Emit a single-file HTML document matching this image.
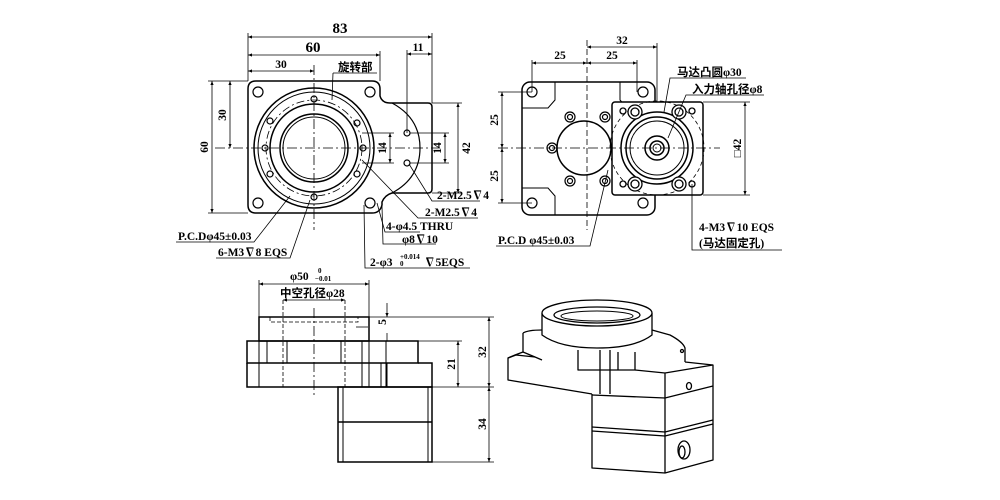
<!DOCTYPE html>
<html><head><meta charset="utf-8"><style>
html,body{margin:0;padding:0;background:#fff;}
svg{display:block}
text{font-family:"Liberation Serif","Noto Serif CJK SC",serif;font-weight:bold;fill:#000;font-size:11.5px}
.cj{font-family:"Liberation Serif","Noto Sans CJK SC",sans-serif;font-size:11.5px;font-weight:bold}
.big{font-size:15px}
</style></head><body>
<svg width="1000" height="500" viewBox="0 0 1000 500" xmlns="http://www.w3.org/2000/svg">
<defs>
<marker id="a" viewBox="0 0 10 10" refX="10" refY="5" markerWidth="7" markerHeight="5" orient="auto-start-reverse"><path d="M0,1 L10,5 L0,9 z" fill="#000"/></marker>
</defs>
<g fill="none" stroke="#000" stroke-width="1.5">
<path d="M256,81 H372 Q380,81 380,89 V96 Q382,103 390,103 H428 Q432,103 432,107 V189 Q432,193 428,193 H392 Q385,195 382,202 V205 Q380,213 372,213 H256 Q248,213 248,205 V89 Q248,81 256,81 Z"/>
<path d="M392,103 Q420,118 420,148 Q420,178 392,193" stroke-width="1.2"/>
<circle cx="314" cy="148" r="60"/>
<circle cx="314" cy="148" r="56" stroke-width="1"/>
<circle cx="314" cy="148" r="48" stroke-dasharray="8,3,2,3" stroke-width="0.8"/>
<circle cx="314" cy="148" r="44"/>
<circle cx="314" cy="148" r="34"/>
<circle cx="314" cy="148" r="31" stroke-width="1"/>
<g stroke-width="1.2">
<circle cx="258" cy="92" r="5"/><circle cx="370" cy="92" r="5"/><circle cx="258" cy="203" r="5"/><circle cx="370" cy="203" r="5"/>
<circle cx="314" cy="99" r="3"/><circle cx="314" cy="197" r="3"/><circle cx="265" cy="148" r="3"/><circle cx="363" cy="148" r="3"/>
<circle cx="270" cy="121" r="3"/><circle cx="357" cy="123" r="3"/><circle cx="270" cy="174" r="3"/><circle cx="357" cy="174" r="3"/>
<circle cx="407" cy="133" r="3"/><circle cx="407" cy="163" r="3"/>
</g>
<g stroke-width="0.8">
<line x1="314" y1="65" x2="314" y2="230" stroke-dasharray="10,3,2,3"/>
<line x1="215" y1="148" x2="440" y2="148" stroke-dasharray="10,3,2,3"/>
<line x1="248" y1="33" x2="248" y2="81"/><line x1="432" y1="33" x2="432" y2="103"/><line x1="380" y1="51" x2="380" y2="81"/>
<line x1="248" y1="37" x2="432" y2="37" marker-start="url(#a)" marker-end="url(#a)"/>
<line x1="248" y1="55" x2="380" y2="55" marker-start="url(#a)" marker-end="url(#a)"/>
<line x1="248" y1="71" x2="314" y2="71" marker-start="url(#a)" marker-end="url(#a)"/>
<line x1="407" y1="50" x2="407" y2="133"/>
<line x1="407" y1="54" x2="432" y2="54" marker-start="url(#a)" marker-end="url(#a)"/>
<line x1="208" y1="81" x2="248" y2="81"/><line x1="208" y1="213" x2="248" y2="213"/>
<line x1="212" y1="81" x2="212" y2="213" marker-start="url(#a)" marker-end="url(#a)"/>
<line x1="230" y1="81" x2="230" y2="148" marker-start="url(#a)" marker-end="url(#a)"/>
<line x1="432" y1="103" x2="462" y2="103"/><line x1="432" y1="193" x2="462" y2="193"/>
<line x1="458" y1="103" x2="458" y2="193" marker-start="url(#a)" marker-end="url(#a)"/>
<line x1="410" y1="133" x2="449" y2="133"/><line x1="410" y1="163" x2="449" y2="163"/>
<line x1="445" y1="133" x2="445" y2="163" marker-start="url(#a)" marker-end="url(#a)"/>
<line x1="362" y1="133" x2="394" y2="133"/><line x1="362" y1="163" x2="394" y2="163"/>
<line x1="390" y1="133" x2="390" y2="163" marker-start="url(#a)" marker-end="url(#a)"/>
<polyline points="333,73 377,73"/><line x1="333" y1="73" x2="332" y2="100"/>
<polyline points="409,164 432,201 480,201"/>
<polyline points="362,160 418,218 478,218"/>
<polyline points="377,203 385,232 420,232"/>
<polyline points="382,206 383,244 436,244"/>
<polyline points="364,205 365,268 470,268"/>
<polyline points="176,242 254,242 290,196"/>
<polyline points="216,258 290,258 310,200"/>
</g>
<rect x="522" y="82" width="133" height="133" rx="8"/>
<g stroke-width="1">
<path d="M555,82 V100 L548,108 H522 M620,82 V100 L627,108 H655 M555,215 V196 L548,188 H522"/>
</g>
<circle cx="584" cy="148" r="27"/>
<g stroke-width="1.2">
<circle cx="532" cy="92" r="5"/><circle cx="643" cy="92" r="5"/><circle cx="532" cy="203" r="5"/><circle cx="643" cy="203" r="5"/>
<circle cx="570" cy="117" r="5"/><circle cx="570" cy="117" r="2.5"/><circle cx="605" cy="117" r="5"/><circle cx="605" cy="117" r="2.5"/>
<circle cx="552" cy="148" r="5"/><circle cx="552" cy="148" r="2.5"/>
<circle cx="570" cy="181" r="5"/><circle cx="570" cy="181" r="2.5"/><circle cx="605" cy="181" r="5"/><circle cx="605" cy="181" r="2.5"/>
</g>
<rect x="612" y="102" width="91" height="93" rx="3" fill="#fff"/>
<circle cx="657" cy="148" r="47" stroke-dasharray="4,3" stroke-width="0.8"/>
<circle cx="657" cy="148" r="36"/>
<circle cx="657" cy="148" r="31"/>
<circle cx="657" cy="148" r="27" stroke-width="1"/>
<circle cx="657" cy="148" r="12"/>
<circle cx="657" cy="148" r="7"/>
<circle cx="657" cy="148" r="4" stroke-width="1"/>
<g stroke-width="1.3">
<circle cx="635" cy="112" r="7" fill="#fff"/><circle cx="635" cy="112" r="4"/>
<circle cx="679" cy="112" r="7" fill="#fff"/><circle cx="679" cy="112" r="4"/>
<circle cx="635" cy="184" r="7" fill="#fff"/><circle cx="635" cy="184" r="4"/>
<circle cx="679" cy="184" r="7" fill="#fff"/><circle cx="679" cy="184" r="4"/>
<circle cx="623" cy="111" r="3"/><circle cx="692" cy="111" r="3"/><circle cx="623" cy="184" r="3"/><circle cx="692" cy="184" r="3"/>
</g>
<g stroke-width="0.8">
<line x1="587" y1="40" x2="587" y2="230" stroke-dasharray="6,3"/>
<line x1="498" y1="148" x2="720" y2="148" stroke-dasharray="10,3,2,3"/>
<line x1="532" y1="60" x2="532" y2="92"/><line x1="637" y1="60" x2="637" y2="92"/><line x1="657" y1="43" x2="657" y2="102"/>
<line x1="587" y1="47" x2="657" y2="47" marker-start="url(#a)" marker-end="url(#a)"/>
<line x1="532" y1="63" x2="587" y2="63" marker-start="url(#a)" marker-end="url(#a)"/>
<line x1="587" y1="63" x2="637" y2="63" marker-start="url(#a)" marker-end="url(#a)"/>
<line x1="498" y1="92" x2="532" y2="92"/><line x1="498" y1="203" x2="532" y2="203"/>
<line x1="502" y1="92" x2="502" y2="148" marker-start="url(#a)" marker-end="url(#a)"/>
<line x1="502" y1="148" x2="502" y2="203" marker-start="url(#a)" marker-end="url(#a)"/>
<line x1="703" y1="102" x2="750" y2="102"/><line x1="703" y1="195" x2="750" y2="195"/>
<line x1="745" y1="102" x2="745" y2="195" marker-start="url(#a)" marker-end="url(#a)"/>
<polyline points="746,78 670,78 664,112"/>
<polyline points="764,95 686,95 668,138"/>
<polyline points="692,184 692,250 782,250"/>
<polyline points="496,246 590,246 608,170"/>
</g>
<rect x="259" y="317" width="110" height="24"/>
<rect x="247" y="341" width="171" height="22"/>
<path d="M247,363 V387 H432 V363 H418"/>
<rect x="338" y="387" width="94" height="75"/>
<line x1="338" y1="422" x2="432" y2="422"/>
<g stroke-width="1">
<line x1="343" y1="387" x2="343" y2="462"/><line x1="428" y1="387" x2="428" y2="462"/>
<line x1="259" y1="341" x2="259" y2="387"/><line x1="267" y1="341" x2="267" y2="363"/>
<line x1="287" y1="341" x2="287" y2="363"/><line x1="341" y1="341" x2="341" y2="363"/>
<line x1="362" y1="341" x2="362" y2="387"/><line x1="369" y1="341" x2="369" y2="387"/>
<line x1="386" y1="341" x2="386" y2="387"/><line x1="381" y1="363" x2="381" y2="387"/><line x1="387" y1="363" x2="387" y2="387"/>
<line x1="267" y1="363" x2="287" y2="363"/>
</g>
<g stroke-width="0.8">
<line x1="283" y1="300" x2="283" y2="387" stroke-dasharray="4,2"/>
<line x1="345" y1="300" x2="345" y2="387" stroke-dasharray="4,2"/>
<line x1="314" y1="308" x2="314" y2="396" stroke-dasharray="10,3,2,3"/>
<polyline points="270,317 270,322 358,322 358,317" stroke-dasharray="4,2"/>
<line x1="259" y1="280" x2="259" y2="317"/><line x1="369" y1="280" x2="369" y2="317"/>
<line x1="259" y1="284" x2="369" y2="284" marker-start="url(#a)" marker-end="url(#a)"/>
<line x1="283" y1="300" x2="345" y2="300" marker-start="url(#a)" marker-end="url(#a)"/>
<line x1="369" y1="317" x2="494" y2="317"/><line x1="418" y1="341" x2="462" y2="341"/>
<line x1="432" y1="387" x2="494" y2="387"/><line x1="432" y1="462" x2="494" y2="462"/>
<line x1="489" y1="317" x2="489" y2="387" marker-start="url(#a)" marker-end="url(#a)"/>
<line x1="489" y1="387" x2="489" y2="462" marker-start="url(#a)" marker-end="url(#a)"/>
<line x1="458" y1="341" x2="458" y2="387" marker-start="url(#a)" marker-end="url(#a)"/>
<line x1="387" y1="303" x2="387" y2="317" marker-end="url(#a)"/>
<line x1="387" y1="341" x2="387" y2="333"/>
<line x1="356" y1="327" x2="368" y2="327"/>
</g>
<!-- Iso view -->
<g stroke-width="1.3" stroke-linejoin="round">
<path d="M523,333 L523,352 L515,355 L508,358 L508,380 L592,394"/>
<path d="M508,358 L516,355 L535,357"/>
<path d="M523,333 Q528,330 542,330 M652,330 L670,335 Q683,342 685,348 L685,362"/>
<path d="M523,352 L535,357 L542,360"/>
<path d="M542,313 L542,335 Q560,348 597,348 Q635,348 652,335 L652,313"/>
<ellipse cx="597" cy="313" rx="55" ry="13" fill="#fff"/>
<ellipse cx="597" cy="315" rx="43" ry="8"/>
<ellipse cx="597" cy="316" rx="36" ry="5" stroke-width="1"/>
<path d="M578,350 L578,370 L635,370 L635,352 M600,350 V394 M610,350 V394 M618,352 V370"/>
<path d="M592,394 L592,468 L665,473 L713,460 L713,365 L685,362"/>
<path d="M635,370 L665,373 L713,365 M665,373 V473"/>
<path d="M592,395 L665,398 L713,386"/>
<path d="M592,427 L665,432 L713,420 M592,431 L665,436 L713,424"/>
<ellipse cx="689" cy="386" rx="2.5" ry="3.5"/>
<ellipse cx="684" cy="450" rx="6" ry="9"/><ellipse cx="682" cy="452" rx="3" ry="6"/>
<circle cx="682" cy="351" r="1.5"/>
</g>
</g>
<text x="340" y="33" text-anchor="middle" class="big">83</text>
<text x="313" y="52" text-anchor="middle" class="big">60</text>
<text x="281" y="68" text-anchor="middle">30</text>
<text x="418" y="51" text-anchor="middle">11</text>
<text x="338" y="71" class="cj">旋转部</text>
<text transform="translate(226,115) rotate(-90)" text-anchor="middle">30</text>
<text transform="translate(208,147) rotate(-90)" text-anchor="middle">60</text>
<text transform="translate(470,148) rotate(-90)" text-anchor="middle">42</text>
<text transform="translate(441,148) rotate(-90)" text-anchor="middle">14</text>
<text transform="translate(386,148) rotate(-90)" text-anchor="middle">14</text>
<text x="437" y="199">2-M2.5∇4</text>
<text x="425" y="216">2-M2.5∇4</text>
<text x="386" y="230">4-φ4.5 THRU</text>
<text x="402" y="243">φ8∇10</text>
<text x="370" y="266">2-φ3</text>
<text x="400" y="259" style="font-size:7px">+0.014</text>
<text x="400" y="266" style="font-size:7px">0</text>
<text x="424" y="266">∇5EQS</text>
<text x="178" y="240">P.C.Dφ45±0.03</text>
<text x="218" y="256">6-M3∇8 EQS</text>
<text x="622" y="44" text-anchor="middle">32</text>
<text x="560" y="59" text-anchor="middle">25</text>
<text x="612" y="59" text-anchor="middle">25</text>
<text transform="translate(498,120) rotate(-90)" text-anchor="middle">25</text>
<text transform="translate(498,176) rotate(-90)" text-anchor="middle">25</text>
<text transform="translate(741,148) rotate(-90)" text-anchor="middle">□42</text>
<text x="677" y="76" class="cj">马达凸圆φ30</text>
<text x="692" y="93" class="cj">入力轴孔径φ8</text>
<text x="699" y="231">4-M3∇10 EQS</text>
<text x="699" y="247" class="cj">(马达固定孔)</text>
<text x="498" y="244">P.C.D φ45±0.03</text>
<text x="290" y="280">φ50</text>
<text x="318" y="273" style="font-size:7px">0</text>
<text x="315" y="281" style="font-size:7px">−0.01</text>
<text x="280" y="297" class="cj">中空孔径φ28</text>
<text transform="translate(386,322) rotate(-90)" text-anchor="middle">5</text>
<text transform="translate(455,364) rotate(-90)" text-anchor="middle">21</text>
<text transform="translate(486,352) rotate(-90)" text-anchor="middle">32</text>
<text transform="translate(486,424) rotate(-90)" text-anchor="middle">34</text>
</svg>
</body></html>
